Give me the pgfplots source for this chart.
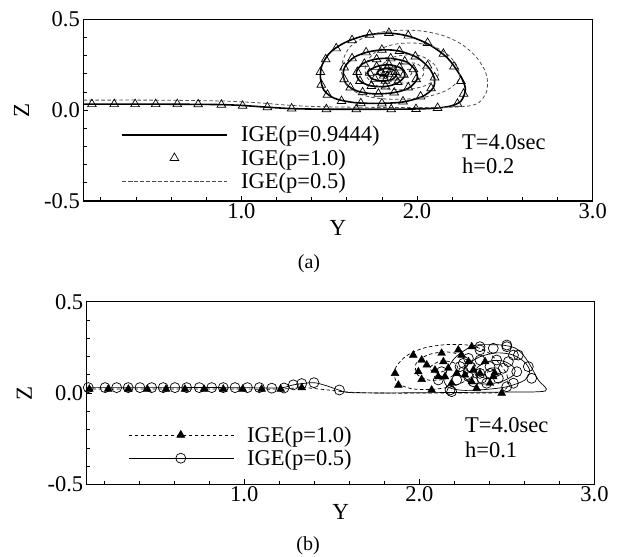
\documentclass[border=0pt]{standalone}
\usepackage{fontspec}
\setmainfont{Liberation Serif}
\usepackage{pgfplots}
\pgfplotsset{compat=1.18}
\pgfplotsset{
  myaxis/.style={
    scale only axis, xmin=0.1, xmax=3, ymin=-0.5, ymax=0.5,
    xtick={1,2,3}, xticklabels={1.0,2.0,3.0},
    ytick={-0.5,0,0.5}, yticklabels={-0.5,0.0,0.5},
    minor xtick={0.2,0.4,0.6,0.8,1.2,1.4,1.6,1.8,2.2,2.4,2.6,2.8},
    minor ytick={-0.4,-0.3,-0.2,-0.1,0.1,0.2,0.3,0.4},
    tick align=inside, xtick pos=left, ytick pos=left,
    major tick length=5pt, minor tick length=3.5pt,
    axis line style={line width=1.3pt},
    every tick/.style={line width=0.8pt, black},
    ticklabel style={font=\fontsize{22.5}{23}\selectfont},
    xticklabel style={yshift=1pt},
    xlabel={Y}, ylabel={Z},
    every axis x label/.style={at={(axis description cs:0.5,-0.15)}, anchor=center, font=\fontsize{23}{23}\selectfont},
    every axis y label/.style={at={(axis description cs:-0.121,0.5)}, anchor=center, rotate=90, font=\fontsize{23}{23}\selectfont},
    legend style={draw=none, fill=none, font=\fontsize{22.5}{24}\selectfont, legend cell align=left, row sep=2pt,
      /tikz/every odd column/.append style={column sep=11pt}},
    legend image code/.code={\draw[mark repeat=2,mark phase=2,##1] plot coordinates {(0pt,0pt) (52pt,0pt) (105pt,0pt)};},
  }
}
\begin{document}
\begin{tikzpicture}
\useasboundingbox (0pt,0pt) rectangle (619pt,557pt);
% ---------------- (a) ----------------
\begin{axis}[myaxis, at={(83.3pt,356pt)}, anchor=south west, width=509.4pt, height=181.7pt,
  legend style={at={(axis cs:0.3,-0.066)}, anchor=north west}]
\addplot[black, line width=1.6pt, smooth] coordinates {
(0.1,0.033) (0.5,0.033) (0.85,0.031) (1.0,0.026) (1.15,0.016) (1.3,0.008) (1.5,0.005) (1.8,0.005) (2.05,0.008) (2.18,0.02)
(2.25,0.05) (2.275,0.12) (2.24,0.2) (2.17,0.29) (2.07,0.36) (1.96,0.405) (1.85,0.423) (1.72,0.414) (1.6,0.377) (1.51,0.322) (1.46,0.25) (1.45,0.18) (1.47,0.11) (1.53,0.065) (1.64,0.042) (1.78,0.037) (1.92,0.045) (2.03,0.075)
(2.09,0.12) (2.10,0.17) (2.07,0.23) (2.0,0.29) (1.9,0.325) (1.81,0.332) (1.72,0.32) (1.64,0.29) (1.59,0.24) (1.58,0.19) (1.60,0.14) (1.66,0.105) (1.75,0.09) (1.86,0.095) (1.95,0.12)
(2.0,0.17) (1.99,0.22) (1.94,0.265) (1.85,0.285) (1.76,0.28) (1.69,0.255) (1.655,0.21) (1.67,0.165) (1.73,0.135) (1.82,0.13) (1.89,0.15)
(1.93,0.19) (1.91,0.23) (1.84,0.25) (1.77,0.24) (1.72,0.21) (1.74,0.175) (1.80,0.16) (1.86,0.17)
(1.885,0.2) (1.86,0.225) (1.81,0.228) (1.775,0.21) (1.79,0.19) (1.83,0.19) (1.84,0.205) (1.825,0.21)
};
\addlegendentry{IGE(p=0.9444)}
\addplot[black, only marks, mark=triangle, mark size=5pt, mark options={line width=0.7pt}] coordinates {
(0.149,0.033) (0.276,0.033) (0.395,0.033) (0.512,0.033) (0.635,0.033) (0.754,0.032) (0.886,0.030) (1.007,0.024) (1.148,0.016) (1.286,0.009) (1.484,0.005) (1.654,0.005) (1.853,0.005) (1.994,0.006) (2.117,0.012) (2.23,0.035)
(2.265,0.09) (2.25,0.16) (2.21,0.24) (2.15,0.31) (2.06,0.37) (1.95,0.41) (1.84,0.425) (1.73,0.415) (1.63,0.385) (1.54,0.34) (1.48,0.28) (1.45,0.21) (1.455,0.14) (1.49,0.085) (1.57,0.05) (1.68,0.038) (1.80,0.037) (1.92,0.048) (2.02,0.075)
(2.08,0.12) (2.10,0.18) (2.06,0.245) (1.99,0.295) (1.90,0.325) (1.80,0.332) (1.71,0.318) (1.63,0.285) (1.585,0.235) (1.585,0.17) (1.62,0.125) (1.69,0.098) (1.78,0.09) (1.87,0.097) (1.95,0.125)
(1.995,0.17) (1.98,0.225) (1.93,0.268) (1.85,0.285) (1.77,0.28) (1.70,0.255) (1.66,0.21) (1.675,0.16) (1.74,0.133) (1.82,0.13) (1.89,0.155)
(1.925,0.195) (1.90,0.235) (1.84,0.25) (1.77,0.238) (1.73,0.205) (1.76,0.172) (1.82,0.162) (1.87,0.18) (1.875,0.21) (1.83,0.227) (1.79,0.21) (1.81,0.19) (1.84,0.2)
};
\addlegendentry{IGE(p=1.0)}
\addplot[black!70, line width=0.8pt, dash pattern=on 3.5pt off 2.5pt, smooth] coordinates {
(0.1,0.055) (0.5,0.055) (0.9,0.05) (1.1,0.04) (1.3,0.025) (1.5,0.018) (1.8,0.015) (2.1,0.014) (2.27,0.02)
(2.35,0.04) (2.395,0.1) (2.40,0.17) (2.38,0.23) (2.33,0.30) (2.25,0.365) (2.15,0.41) (2.03,0.435) (1.92,0.44) (1.80,0.43) (1.70,0.40) (1.62,0.35) (1.58,0.28) (1.57,0.21) (1.6,0.14) (1.67,0.09) (1.78,0.065) (1.92,0.06) (2.06,0.075) (2.17,0.11)
(2.24,0.17) (2.23,0.24) (2.17,0.31) (2.08,0.355) (1.97,0.37) (1.86,0.36) (1.77,0.325) (1.71,0.26) (1.71,0.19) (1.76,0.14) (1.85,0.115) (1.96,0.115) (2.06,0.14)
(2.12,0.19) (2.10,0.25) (2.03,0.295) (1.95,0.305) (1.86,0.29) (1.80,0.245) (1.80,0.19) (1.86,0.155) (1.95,0.15) (2.02,0.175)
(2.04,0.215) (2.0,0.255) (1.93,0.26) (1.88,0.235) (1.88,0.2) (1.93,0.185) (1.97,0.2) (1.955,0.225) (1.93,0.22)
};
\addlegendentry{IGE(p=0.5)}
\node[anchor=base west, font=\fontsize{22.5}{24}\selectfont, inner sep=0pt] at (axis cs:2.256,-0.214) {T=4.0sec};
\node[anchor=base west, font=\fontsize{22.5}{24}\selectfont, inner sep=0pt] at (axis cs:2.256,-0.351) {h=0.2};
\end{axis}
\node[font=\fontsize{20}{20}\selectfont] at (309pt,293pt) {(a)};
% ---------------- (b) ----------------
\begin{axis}[myaxis, at={(86.7pt,72.5pt)}, anchor=south west, width=507.8pt, height=182.8pt,
  every axis y label/.style={at={(axis description cs:-0.123,0.5)}, anchor=center, rotate=90, font=\fontsize{23}{23}\selectfont},
  legend style={at={(axis cs:0.32,-0.16)}, anchor=north west}]
\addlegendimage{black, line width=0.7pt, dash pattern=on 3.5pt off 2.5pt, mark=triangle*, mark size=4.5pt, mark options={solid}}
\addlegendentry{IGE(p=1.0)}
\addlegendimage{black, line width=0.7pt, mark=o, mark size=5pt}
\addlegendentry{IGE(p=0.5)}
% p=1.0 dashed line
\addplot[black, line width=0.7pt, dash pattern=on 3.5pt off 2.5pt, smooth, forget plot] coordinates {
(0.1,0.022) (0.5,0.022) (0.9,0.022) (1.2,0.022) (1.33,0.03) (1.45,0.02) (1.6,0.005) (1.8,0.0) (2.1,0.0) (2.3,0.0) (2.45,0.003)
(2.5,0.03) (2.5,0.1) (2.45,0.17) (2.38,0.23) (2.28,0.262) (2.15,0.265) (2.02,0.245) (1.92,0.2) (1.86,0.13) (1.87,0.06) (1.95,0.025) (2.07,0.02) (2.2,0.04)
(2.3,0.09) (2.32,0.15) (2.26,0.2) (2.16,0.225) (2.05,0.21) (1.98,0.16) (1.99,0.1) (2.06,0.07) (2.16,0.08) (2.22,0.12) (2.2,0.165) (2.12,0.175) (2.06,0.14) (2.09,0.11) (2.14,0.12)
};
% p=1.0 triangles
\addplot[black, only marks, mark=triangle*, mark size=4.5pt, forget plot] coordinates {
(0.115,0.022) (0.223,0.022) (0.338,0.022) (0.446,0.022) (0.553,0.022) (0.661,0.022) (0.770,0.022) (0.880,0.022) (0.991,0.022) (1.099,0.022) (1.208,0.022) (1.328,0.03)
(1.861,0.108) (1.88,0.044) (1.965,0.208) (2.013,0.181) (2.042,0.154) (2.013,0.075) (2.07,0.017) (2.127,0.218) (2.137,0.172) (2.089,0.126) (2.108,0.09) (2.165,0.136) (2.184,0.054)
(2.222,0.236) (2.241,0.208) (2.299,0.254) (2.28,0.172) (2.213,0.108) (2.26,0.099) (2.299,0.062) (2.327,0.026) (2.308,0.126) (2.346,0.108) (2.375,0.172) (2.422,0.09) (2.43,0.11) (2.47,0.0) (2.403,0.054) (2.146,0.09) (1.994,0.117)
};
% p=0.5 solid line
\addplot[black, line width=0.7pt, smooth, forget plot] coordinates {
(0.1,0.03) (0.5,0.03) (0.9,0.03) (1.15,0.028) (1.22,0.03) (1.28,0.045) (1.33,0.052) (1.40,0.057) (1.47,0.04) (1.54,0.017) (1.6,0.003) (1.8,0.001) (2.0,0.002) (2.3,0.004) (2.5,0.006) (2.72,0.012)
(2.68,0.07) (2.64,0.14) (2.60,0.2) (2.55,0.245) (2.48,0.262) (2.40,0.265) (2.32,0.262) (2.26,0.235) (2.2,0.19) (2.16,0.13) (2.14,0.07) (2.17,0.03) (2.25,0.015) (2.38,0.02) (2.5,0.035)
(2.6,0.07) (2.63,0.12) (2.6,0.17) (2.53,0.21) (2.44,0.22) (2.35,0.2) (2.28,0.16) (2.25,0.11) (2.28,0.065) (2.36,0.05) (2.46,0.06) (2.54,0.1) (2.54,0.14) (2.48,0.175) (2.4,0.175) (2.33,0.14) (2.33,0.1) (2.39,0.08) (2.46,0.1) (2.45,0.135) (2.4,0.135) (2.39,0.11)
};
% p=0.5 circles
\addplot[black, only marks, mark=o, mark size=5pt, mark options={line width=0.7pt}, forget plot] coordinates {
(0.109,0.03) (0.205,0.03) (0.271,0.03) (0.337,0.03) (0.404,0.03) (0.471,0.03) (0.537,0.03) (0.604,0.03) (0.671,0.03) (0.743,0.03) (0.814,0.03) (0.880,0.03) (0.947,0.03) (1.018,0.03) (1.086,0.03) (1.157,0.027) (1.227,0.028) (1.280,0.045) (1.328,0.052) (1.398,0.057) (1.543,0.017)
(2.175,0.017) (2.108,0.072) (2.127,0.117) (2.213,0.072) (2.251,0.117) (2.28,0.19) (2.346,0.236) (2.422,0.245) (2.499,0.254) (2.565,0.208) (2.622,0.145) (2.641,0.081) (2.556,0.117) (2.537,0.054) (2.479,0.136) (2.451,0.081) (2.384,0.054) (2.346,0.108) (2.403,0.145) (2.308,0.062) (2.289,0.145) (2.346,0.181) (2.441,0.181) (2.508,0.172) (2.232,0.145) (2.499,0.035) (2.346,0.254) (2.499,0.263) (2.537,0.208) (2.251,0.163) (2.184,0.008) (2.403,0.108) (2.356,0.081) (2.28,0.09)
};
\node[anchor=base west, font=\fontsize{22.5}{24}\selectfont, inner sep=0pt] at (axis cs:2.26,-0.218) {T=4.0sec};
\node[anchor=base west, font=\fontsize{22.5}{24}\selectfont, inner sep=0pt] at (axis cs:2.26,-0.355) {h=0.1};
\end{axis}
\node[font=\fontsize{20}{20}\selectfont] at (308pt,11pt) {(b)};
\end{tikzpicture}
\end{document}
